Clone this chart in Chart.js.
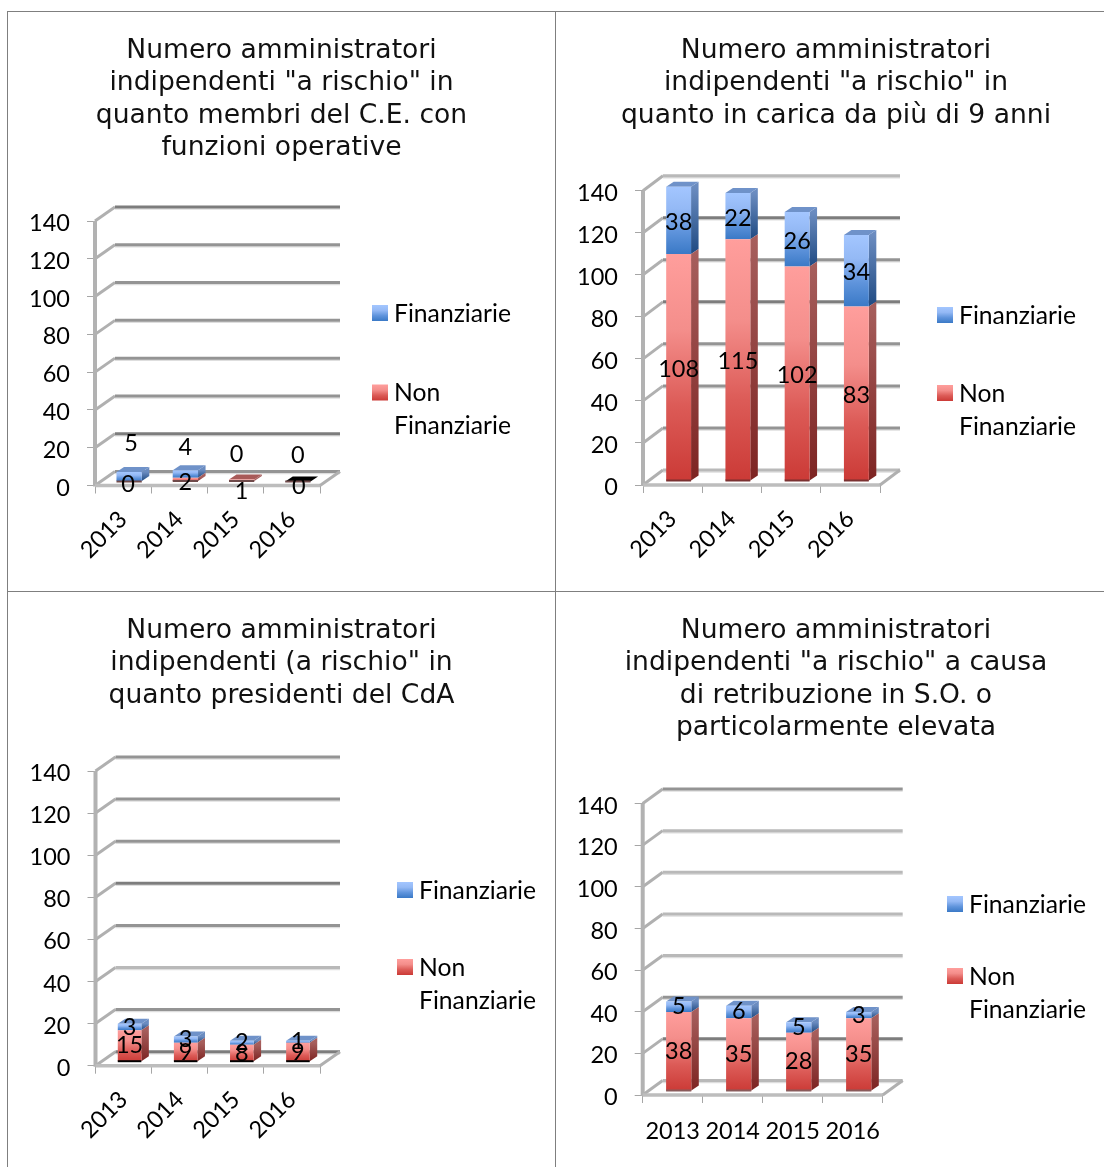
<!DOCTYPE html>
<html>
<head>
<meta charset="utf-8">
<title>Amministratori indipendenti a rischio</title>
<script src="https://cdn.jsdelivr.net/npm/chart.js@4"></script>
<style>
    html, body { margin: 0; padding: 0; background: #fff; overflow: hidden; }
    body { width: 1104px; height: 1167px; position: relative; }
    canvas { position: absolute; }
    .rule { position: absolute; background: #7f7f7f; }
</style>
</head>
<body>
<div class="rule" style="left:7px;top:11px;width:1097px;height:1px"></div>
<div class="rule" style="left:7px;top:591px;width:1097px;height:1px"></div>
<div class="rule" style="left:7px;top:11px;width:1px;height:1156px"></div>
<div class="rule" style="left:555px;top:11px;width:1px;height:1156px"></div>
<canvas id="operative"></canvas>
<canvas id="seniority"></canvas>
<canvas id="chair"></canvas>
<canvas id="pay"></canvas>
<script>
const years = ["2013", "2014", "2015", "2016"];
const yTicks = [0, 20, 40, 60, 80, 100, 120, 140];
const seriesNames = ["Non Finanziarie", "Finanziarie"];

const operativeNon = [0, 2, 1, 0];
const operativeFin = [5, 4, 0, 0];
const seniorityNon = [108, 115, 102, 83];
const seniorityFin = [38, 22, 26, 34];
const chairNon = [15, 9, 8, 9];
const chairFin = [3, 3, 2, 1];
const payNon = [38, 35, 28, 35];
const payFin = [5, 6, 5, 3];

const TITLE_FONT = "'DejaVu Sans', Verdana, sans-serif";
const BODY_FONT = "Lato, Carlito, sans-serif";
const TITLE_SIZE = 26.6;
const TITLE_LINE = 32.4;
const BODY_SIZE = 23.5;
const LEGEND_SIZE = 24.7;

const RED = { front: ["#ff9e9c", "#f48e8b", "#dc5b57", "#cb3a36"], side: ["#a65e5c", "#7d2422"], top: "#a85a58" };
const BLUE = { front: ["#a3c6ff", "#94b9f5", "#5f94dc", "#3a79c6"], side: ["#6b8cc0", "#1f4a82"], top: "#6f92c9" };
const GRID_SHADES = { d: "#7d7d7d", m: "#949494", l: "#b9b9b9" };

function fillStops(ctx, top, bottom, stops) {
    const g = ctx.createLinearGradient(0, top, 0, bottom);
    stops.forEach((c, i) => g.addColorStop(i / (stops.length - 1), c));
    return g;
}

// front face gradient runs over the visible height of one stack segment
function segmentFill(look, under, values) {
    return (c) => {
        if (c.type !== "data" || !c.chart.chartArea) return look.front[0];
        const y = c.chart.scales.y;
        const i = c.dataIndex;
        const top = y.getPixelForValue(Math.min(under[i] + values[i], y.max));
        const bottom = y.getPixelForValue(under[i]);
        if (!(bottom > top)) return look.front[0];
        return fillStops(c.chart.ctx, top, bottom, look.front);
    };
}

function line(ctx, x1, y1, x2, y2, color, width) {
    ctx.strokeStyle = color;
    ctx.lineWidth = width;
    ctx.beginPath();
    ctx.moveTo(x1, y1);
    ctx.lineTo(x2, y2);
    ctx.stroke();
}

function quad(ctx, pts, fill) {
    ctx.fillStyle = fill;
    ctx.beginPath();
    pts.forEach((p, i) => (i ? ctx.lineTo(p[0], p[1]) : ctx.moveTo(p[0], p[1])));
    ctx.closePath();
    ctx.fill();
}

const box3d = {
    id: "box3d",
    beforeDatasetsDraw(chart, args, o) {
        const { ctx, chartArea: a, scales: { y } } = chart;
        // back wall and its diagonals
        yTicks.forEach((t, i) => {
            const py = y.getPixelForValue(t);
            line(ctx, a.left, py, a.left + o.dx, py - o.dy, "#b0b0b0", 3);
            line(ctx, a.left + o.dx, py - o.dy + 2, a.right + o.dx, py - o.dy + 2, "#dedede", 1.5);
            line(ctx, a.left + o.dx, py - o.dy, a.right + o.dx, py - o.dy, GRID_SHADES[o.shades[i]], 3);
        });
        // floor edges and the vertical axis
        line(ctx, a.left, a.top, a.left, a.bottom + 1, "#b2b2b2", 4);
        line(ctx, a.left, a.bottom, a.right, a.bottom, "#bdbdbd", 3.5);
        line(ctx, a.right, a.bottom, a.right + o.dx, a.bottom - o.dy, "#b0b0b0", 3);
        ctx.save();
        ctx.translate(o.barDx, o.barDy);
    },
    beforeDatasetDraw(chart, args, o) {
        const { ctx, scales: { y } } = chart;
        const look = args.index === 0 ? RED : BLUE;
        const values = chart.data.datasets[args.index].data;
        const other = chart.data.datasets[1 - args.index].data;
        args.meta.data.forEach((el, i) => {
            const top = Math.max(el.y, y.top);
            const right = el.x + el.width / 2;
            const left = el.x - el.width / 2;
            if (el.base > top) {
                quad(ctx, [[right, top], [right + o.sx, top - o.sy], [right + o.sx, el.base - o.sy], [right, el.base]],
                    fillStops(ctx, top, el.base, look.side));
            }
            const isBlue = args.index === 1;
            const capped = isBlue ? values[i] > 0 : other[i] === 0;
            if (capped) {
                const color = !isBlue && values[i] === 0 ? "#000" : look.top;
                quad(ctx, [[left, top], [left + o.sx, top - o.sy], [right + o.sx, top - o.sy], [right, top]], color);
            }
        });
    },
    afterDatasetsDraw(chart, args, o) {
        const { ctx, scales: { y } } = chart;
        chart.getDatasetMeta(0).data.forEach((el) => {
            line(ctx, el.x - el.width / 2, el.base, el.x + el.width / 2, el.base, o.baseEdge, 2);
        });
        ctx.restore();

        // value labels, centred on the visible part of each segment
        ctx.fillStyle = "#000";
        ctx.font = BODY_SIZE + "px " + BODY_FONT;
        ctx.textAlign = "center";
        ctx.textBaseline = "middle";
        chart.data.datasets.forEach((ds, d) => {
            chart.getDatasetMeta(d).data.forEach((el, i) => {
                const top = Math.max(el.y, y.top);
                const nudge = o.nudges ? o.nudges[d][i] : [0, o.labelDy];
                ctx.fillText(String(ds.data[i]), el.x + o.barDx + nudge[0], (top + el.base) / 2 + o.barDy + nudge[1]);
            });
        });
    },
    afterDraw(chart, args, o) {
        const { ctx } = chart;
        ctx.font = LEGEND_SIZE + "px " + BODY_FONT;
        ctx.textAlign = "left";
        ctx.textBaseline = "middle";
        // Finanziarie is listed first, the wrapped name second
        [[1, BLUE], [0, RED]].forEach(([d, look], row) => {
            const rowY = o.legendY[row];
            ctx.fillStyle = fillStops(ctx, rowY - 8, rowY + 8, look.front);
            ctx.fillRect(o.legendX, rowY - 8, 16, 16);
            ctx.fillStyle = "#000";
            chart.data.datasets[d].label.split(" ").forEach((word, w) => {
                ctx.fillText(word, o.legendX + 22, rowY + 1 + w * 33);
            });
        });
    }
};

function drawPanel(p) {
    const canvas = document.getElementById(p.id);
    canvas.style.left = p.left + "px";
    canvas.style.top = p.top + "px";
    canvas.style.width = p.width + "px";
    canvas.style.height = p.height + "px";
    canvas.width = p.width;
    canvas.height = p.height;

    const titleTop = 22.6;
    const titleBlock = titleTop + p.title.length * TITLE_LINE;

    new Chart(canvas, {
        type: "bar",
        plugins: [box3d],
        data: {
            labels: years,
            datasets: [
                {
                    label: seriesNames[0],
                    data: p.non,
                    backgroundColor: segmentFill(RED, [0, 0, 0, 0], p.non)
                },
                {
                    label: seriesNames[1],
                    data: p.fin,
                    backgroundColor: segmentFill(BLUE, p.non, p.fin)
                }
            ]
        },
        options: {
            responsive: false,
            animation: false,
            layout: { padding: 0 },
            datasets: { bar: { categoryPercentage: 1, barPercentage: p.barShare } },
            scales: {
                x: {
                    stacked: true,
                    afterFit(scale) { scale.height = p.top + p.height - p.y0; },
                    border: { display: false },
                    grid: { drawOnChartArea: false, drawTicks: true, tickLength: 8, color: "#a6a6a6", lineWidth: 1 },
                    ticks: {
                        autoSkip: false,
                        minRotation: p.rotation,
                        maxRotation: p.rotation,
                        padding: p.rotation ? 12 : 14,
                        color: "#000",
                        font: { family: BODY_FONT, size: BODY_SIZE }
                    }
                },
                y: {
                    stacked: true,
                    min: 0,
                    max: 140,
                    afterBuildTicks(scale) { scale.ticks = yTicks.map((value) => ({ value })); },
                    afterFit(scale) { scale.width = p.x0 - p.left; },
                    border: { display: false },
                    grid: { drawOnChartArea: false, drawTicks: true, tickLength: 8, color: "#a6a6a6", lineWidth: 1 },
                    ticks: { padding: 17, labelOffset: 2.5, color: "#000", font: { family: BODY_FONT, size: BODY_SIZE } }
                },
                // empty axis that holds the space right of the plot without squeezing the title
                gutter: {
                    axis: "y",
                    position: "right",
                    afterFit(scale) { scale.width = p.left + p.width - p.xRight; },
                    border: { display: false },
                    grid: { display: false },
                    ticks: { display: false }
                }
            },
            plugins: {
                legend: { display: false },
                tooltip: { enabled: false },
                title: {
                    display: true,
                    text: p.title,
                    color: "#111",
                    font: { family: TITLE_FONT, size: TITLE_SIZE, weight: "normal", lineHeight: TITLE_LINE / TITLE_SIZE },
                    padding: { top: titleTop, bottom: p.yTop - p.top - titleBlock }
                },
                box3d: {
                    dx: p.dx,
                    dy: p.dy,
                    sx: 7.5,
                    sy: 5,
                    barDx: 6,
                    barDy: -4,
                    shades: p.shades,
                    baseEdge: p.baseEdge,
                    nudges: p.nudges,
                    labelDy: p.labelDy,
                    legendX: p.legendX - p.left,
                    legendY: p.legendY.map((v) => v - p.top)
                }
            }
        }
    });
}

drawPanel({
    id: "operative", left: 8, top: 12, width: 547, height: 579,
    x0: 95, xRight: 320, y0: 485.5, yTop: 221, dx: 20, dy: 14, barShare: 0.45,
    title: ["Numero amministratori", "indipendenti \"a rischio\" in", "quanto membri del C.E. con", "funzioni operative"],
    non: operativeNon, fin: operativeFin, rotation: 45,
    shades: ["m", "d", "m", "m", "m", "m", "m", "d"], baseEdge: "#6f4a4a", labelDy: 0,
    // the labels of this panel sit well away from its very short bars
    nudges: [[[-1, 3], [0, 3], [0, 11], [1, 5]], [[2, -33], [0, -27], [-5, -25], [0, -26]]],
    legendX: 372, legendY: [313, 392.5]
});

drawPanel({
    id: "seniority", left: 568, top: 12, width: 536, height: 579,
    x0: 643, xRight: 880, y0: 485, yTop: 190.7, dx: 20, dy: 15, barShare: 0.42,
    title: ["Numero amministratori", "indipendenti \"a rischio\" in", "quanto in carica da più di 9 anni"],
    non: seniorityNon, fin: seniorityFin, rotation: 45,
    shades: ["l", "m", "m", "m", "d", "m", "d", "l"], baseEdge: "#7a3030", labelDy: 2,
    legendX: 937, legendY: [315, 393]
});

drawPanel({
    id: "chair", left: 8, top: 592, width: 547, height: 575,
    x0: 95.5, xRight: 320, y0: 1065.7, yTop: 771, dx: 20, dy: 14, barShare: 0.42,
    title: ["Numero amministratori", "indipendenti (a rischio\" in", "quanto presidenti del CdA"],
    non: chairNon, fin: chairFin, rotation: 45,
    shades: ["d", "m", "l", "m", "d", "m", "m", "m"], baseEdge: "#000", labelDy: 0,
    legendX: 397, legendY: [890, 967]
});

drawPanel({
    id: "pay", left: 568, top: 592, width: 536, height: 575,
    x0: 642.7, xRight: 882.7, y0: 1095, yTop: 803.5, dx: 20, dy: 14.5, barShare: 0.42,
    title: ["Numero amministratori", "indipendenti \"a rischio\" a causa", "di retribuzione in S.O. o", "particolarmente elevata"],
    non: payNon, fin: payFin, rotation: 0,
    shades: ["l", "d", "m", "l", "l", "l", "l", "m"], baseEdge: "#8a5a5a", labelDy: 0,
    legendX: 947, legendY: [904, 976]
});
</script>
</body>
</html>
